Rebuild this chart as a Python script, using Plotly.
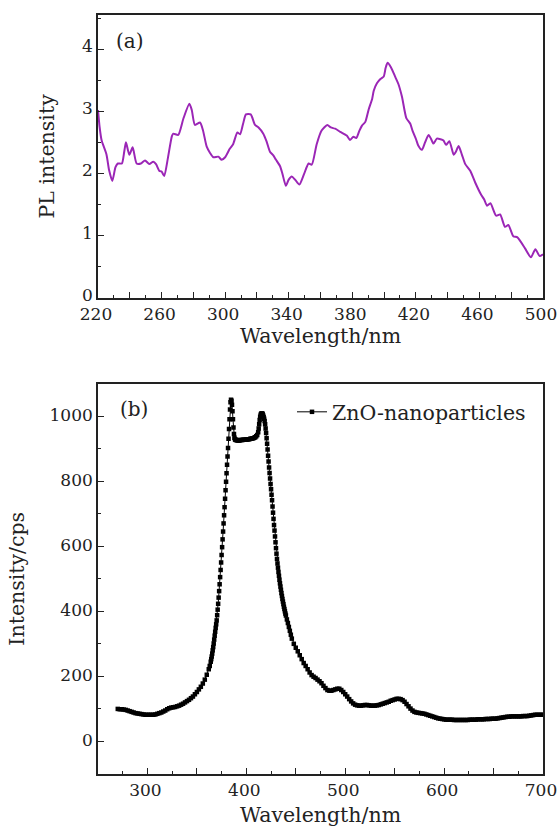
import numpy as np
import plotly.graph_objects as go

# ---------------- panel (a): PL spectrum ----------------
wl_a = [220, 221, 222.3, 225.3, 227, 229, 231, 232.5, 235, 236.5, 237.6, 239.7, 241.8, 244.3,
        247, 249.6, 252.3, 254.8, 256.5, 258.6, 260, 261.7, 264, 266.5, 267.4, 270.5, 273.7,
        277.5, 279, 281, 284.2, 286, 288.4, 290.5, 292.6, 295.7, 297.8, 300, 303, 305, 307.7,
        309.4, 311.3, 313.1, 316.1, 318.8, 321, 324, 326, 328.2, 330.3, 332, 334.5, 336, 338.2,
        340, 341.9, 344, 346.7, 349.5, 352.5, 354.5, 357.6, 360.7, 364.3, 366.5, 369.2, 372.4,
        376.5, 378.5, 380.7, 382.5, 384.5, 386.1, 388.2, 390.3, 392.5, 393.5, 395.5, 397.7, 399.8,
        401, 402.2, 404.3, 407.1, 409, 411.3, 414, 416.5, 418, 420.1, 421.5, 423.8, 425.8, 428,
        429.5, 431.1, 433.2, 435.5, 437.4, 439, 441.1, 443.8, 445, 446.9, 449, 451.1, 454.3,
        457.4, 461, 463, 464.8, 466.9, 470.5, 473, 476.1, 478.2, 481.3, 483.9, 488.8, 492.4,
        495.2, 497.9, 500]
pl_a = [3.02, 2.75, 2.53, 2.31, 2.05, 1.88, 2.1, 2.16, 2.16, 2.35, 2.5, 2.3, 2.42, 2.16,
        2.16, 2.21, 2.15, 2.19, 2.15, 2.04, 2.03, 1.96, 2.25, 2.6, 2.64, 2.62, 2.88,
        3.12, 3.02, 2.78, 2.82, 2.7, 2.43, 2.33, 2.26, 2.27, 2.22, 2.26, 2.4, 2.47, 2.66,
        2.63, 2.8, 2.95, 2.95, 2.78, 2.74, 2.64, 2.52, 2.35, 2.29, 2.22, 2.12, 2.0, 1.8,
        1.9, 1.95, 1.9, 1.82, 1.98, 2.16, 2.14, 2.47, 2.69, 2.78, 2.74, 2.72, 2.67,
        2.61, 2.54, 2.59, 2.57, 2.69, 2.77, 2.83, 3.03, 3.2, 3.33, 3.45, 3.52, 3.56,
        3.7, 3.78, 3.71, 3.55, 3.44, 3.23, 2.89, 2.8, 2.68, 2.55, 2.45, 2.38, 2.5, 2.62,
        2.56, 2.48, 2.56, 2.55, 2.53, 2.46, 2.52, 2.3, 2.34, 2.44, 2.3, 2.15, 2.04,
        1.85, 1.66, 1.58, 1.48, 1.52, 1.32, 1.34, 1.14, 1.17, 0.99, 0.97, 0.79, 0.65,
        0.78, 0.67, 0.7]

a_xtick_vals = [220, 240, 260, 280, 300, 320, 340, 360, 380, 400, 420, 440, 460, 480, 500]
a_xtick_text = ["220", "", "260", "", "300", "", "340", "", "380", "", "420", "", "460", "", "500"]
a_ytick_vals = [0, 1, 2, 3, 4]

# ---------------- panel (b): ZnO nanoparticles ----------------
seg1_int = [100, 99, 99, 98, 97, 95, 93, 91, 89, 87, 86, 85, 84, 83, 82, 82, 82, 82, 82, 83,
            85, 87, 89, 92, 95, 99, 102, 104, 105, 106, 108, 110, 113, 116, 120, 124, 128, 133,
            138, 145, 152, 160, 168, 178, 190, 205, 222]          # 270..362 step 2
seg2_int = [232]                                                   # 363
seg3_int = [245, 253, 261, 270, 280, 290, 301, 313, 325, 337, 349, 360, 372, 388, 405, 423,
            442, 462, 483, 505, 527, 550, 573, 597, 621, 645, 670, 695, 720, 746, 772, 798,
            824, 850, 876, 902, 930, 960, 990, 1020, 1042, 1050, 1047, 1035, 1015, 990, 965,
            945, 933, 929, 927, 926, 926]                          # 364..390 step 0.5
seg4_int = [925, 925, 925, 926, 926, 926, 927, 927, 927, 928, 928, 929, 929, 930, 930, 931,
            932, 933, 935, 938, 942, 950]                          # 391..412 step 1
seg5_int = [962, 975, 988, 998, 1004, 1007, 1008, 1008, 1006, 1002, 997, 992, 985, 975, 962,
            948, 932, 915, 897, 878, 860, 842, 825, 808, 791, 775, 758, 741, 722, 703, 684,
            665, 648, 630, 612, 594, 577, 561, 547, 534, 521, 509, 497, 486, 476, 466, 456,
            447, 438, 430, 422, 414, 407, 400, 393, 387]           # 412.5..440 step 0.5
seg6_int = [375, 364, 352, 340, 328, 316]                          # 441..446 step 1
seg7_int = [300, 288, 277, 265, 253, 241, 232, 222, 212, 204, 199, 195, 190, 185, 179, 171,
            164, 158, 156, 156, 158, 160, 162, 162, 158, 152, 145, 138, 130, 123, 117, 113,
            111, 110, 110, 111, 112, 112, 111, 110, 110, 110, 111, 112, 114, 116, 118, 120,
            122, 125, 127, 129, 131, 131, 130, 127, 122, 115, 108, 101, 95, 91, 89, 88, 87,
            86, 85, 83, 81, 79, 77, 75, 73, 71, 70, 69, 68,
            67, 67, 67, 67, 66, 66, 66, 66, 66, 66, 66, 66, 67, 67, 67, 67, 68, 68, 68, 68,
            69, 69, 69, 70, 70, 70, 71, 72, 73, 74, 75, 76, 76, 77, 77, 77, 77, 77, 77, 78,
            78, 78, 79, 80, 81, 82, 82, 82, 82, 82]                # 448..700 step 2

wl_b = np.concatenate([
    np.arange(270, 363, 2), [363], np.arange(364, 390.1, 0.5), np.arange(391, 412.1, 1),
    np.arange(412.5, 440.1, 0.5), np.arange(441, 446.1, 1), np.arange(448, 700.1, 2)])
int_b = seg1_int + seg2_int + seg3_int + seg4_int + seg5_int + seg6_int + seg7_int
assert len(wl_b) == len(int_b), (len(wl_b), len(int_b))

b_xtick_vals = [250, 300, 350, 400, 450, 500, 550, 600, 650, 700]
b_xtick_text = ["", "300", "", "400", "", "500", "", "600", "", "700"]
b_ytick_vals = [0, 200, 400, 600, 800, 1000]

series_name = "ZnO-nanoparticles"

# ---------------- figure ----------------
W, H = 558, 827
ML, MR, MT, MB = 98, 15, 15, 53
PW, PH = W - ML - MR, H - MT - MB
TEXT_FONT = "DejaVu Serif"
TICK_FONT = dict(family="DejaVu Serif", size=17, color="#222")
AX = dict(showline=True, linecolor="#222", linewidth=1.6, mirror=True, ticks="inside",
          tickcolor="#222", tickwidth=1.3, showgrid=False, zeroline=False, tickfont=TICK_FONT,
          ticklabeloverflow="allow", automargin=False)


def px(xp):
    return (xp - ML) / PW


def py(yp):
    return (H - MB - yp) / PH


fig = go.Figure()
fig.add_trace(go.Scatter(x=wl_a, y=pl_a, mode="lines", line=dict(color="#9b26b6", width=2,
                         shape="spline", smoothing=0.6), showlegend=False,
                         xaxis="x", yaxis="y"))
fig.add_trace(go.Scatter(x=wl_b, y=int_b, mode="lines+markers", name=series_name,
                         line=dict(color="black", width=1),
                         marker=dict(symbol="square", size=4.5, color="black"),
                         xaxis="x2", yaxis="y2"))

fig.update_layout(
    width=W, height=H, margin=dict(l=ML, r=MR, t=MT, b=MB, autoexpand=False),
    paper_bgcolor="white", plot_bgcolor="white",
    font=dict(family=TEXT_FONT, color="#222"),
    xaxis=dict(AX, domain=[0, 1], anchor="y", range=[220, 500], tickvals=a_xtick_vals,
               ticktext=a_xtick_text, ticklen=6, ticklabelshift=-2,
               minor=dict(dtick=10, tick0=220, ticklen=3, ticks="inside", tickcolor="#222"),
               title=dict(text="Wavelength/nm", font=dict(family=TEXT_FONT, size=20.5),
                          standoff=5)),
    yaxis=dict(AX, domain=[py(297.7), 1], anchor="x", range=[0, 4.55], tickvals=a_ytick_vals,
               ticklen=6, ticklabelshift=-3,
               minor=dict(dtick=0.5, tick0=0, ticklen=3, ticks="inside", tickcolor="#222"),
               title=dict(text="PL intensity", font=dict(family=TEXT_FONT, size=20.5),
                          standoff=22)),
    xaxis2=dict(AX, domain=[0, 1], anchor="y2", range=[250, 700], tickvals=b_xtick_vals,
                ticktext=b_xtick_text, ticklen=6, ticklabelshift=-2,
                minor=dict(dtick=25, tick0=250, ticklen=3, ticks="inside", tickcolor="#222"),
                title=dict(text="Wavelength/nm", font=dict(family=TEXT_FONT, size=20.5),
                           standoff=13)),
    yaxis2=dict(AX, domain=[0, py(383.5)], anchor="x2", range=[-100, 1100],
                tickvals=b_ytick_vals, ticklen=6, ticklabelshift=-1,
                minor=dict(dtick=100, tick0=0, ticklen=3, ticks="inside", tickcolor="#222"),
                title=dict(text="Intensity/cps", font=dict(family=TEXT_FONT, size=20.5),
                           standoff=19)),
    legend=dict(x=px(292), y=py(392), xanchor="left", yanchor="top",
                bgcolor="rgba(0,0,0,0)",
                font=dict(family=TEXT_FONT, size=20.5, color="#222")),
    annotations=[
        dict(text="(a)", xref="paper", yref="paper", x=px(130), y=py(41),
             xanchor="center", yanchor="middle", showarrow=False,
             font=dict(family=TEXT_FONT, size=20, color="#222")),
        dict(text="(b)", xref="paper", yref="paper", x=px(133.5), y=py(409),
             xanchor="center", yanchor="middle", showarrow=False,
             font=dict(family=TEXT_FONT, size=20, color="#222")),
    ],
)

fig.write_html("out.html", config={"displayModeBar": False},
               post_script="document.body.style.margin='0';"
                           "document.documentElement.style.overflow='hidden';")
